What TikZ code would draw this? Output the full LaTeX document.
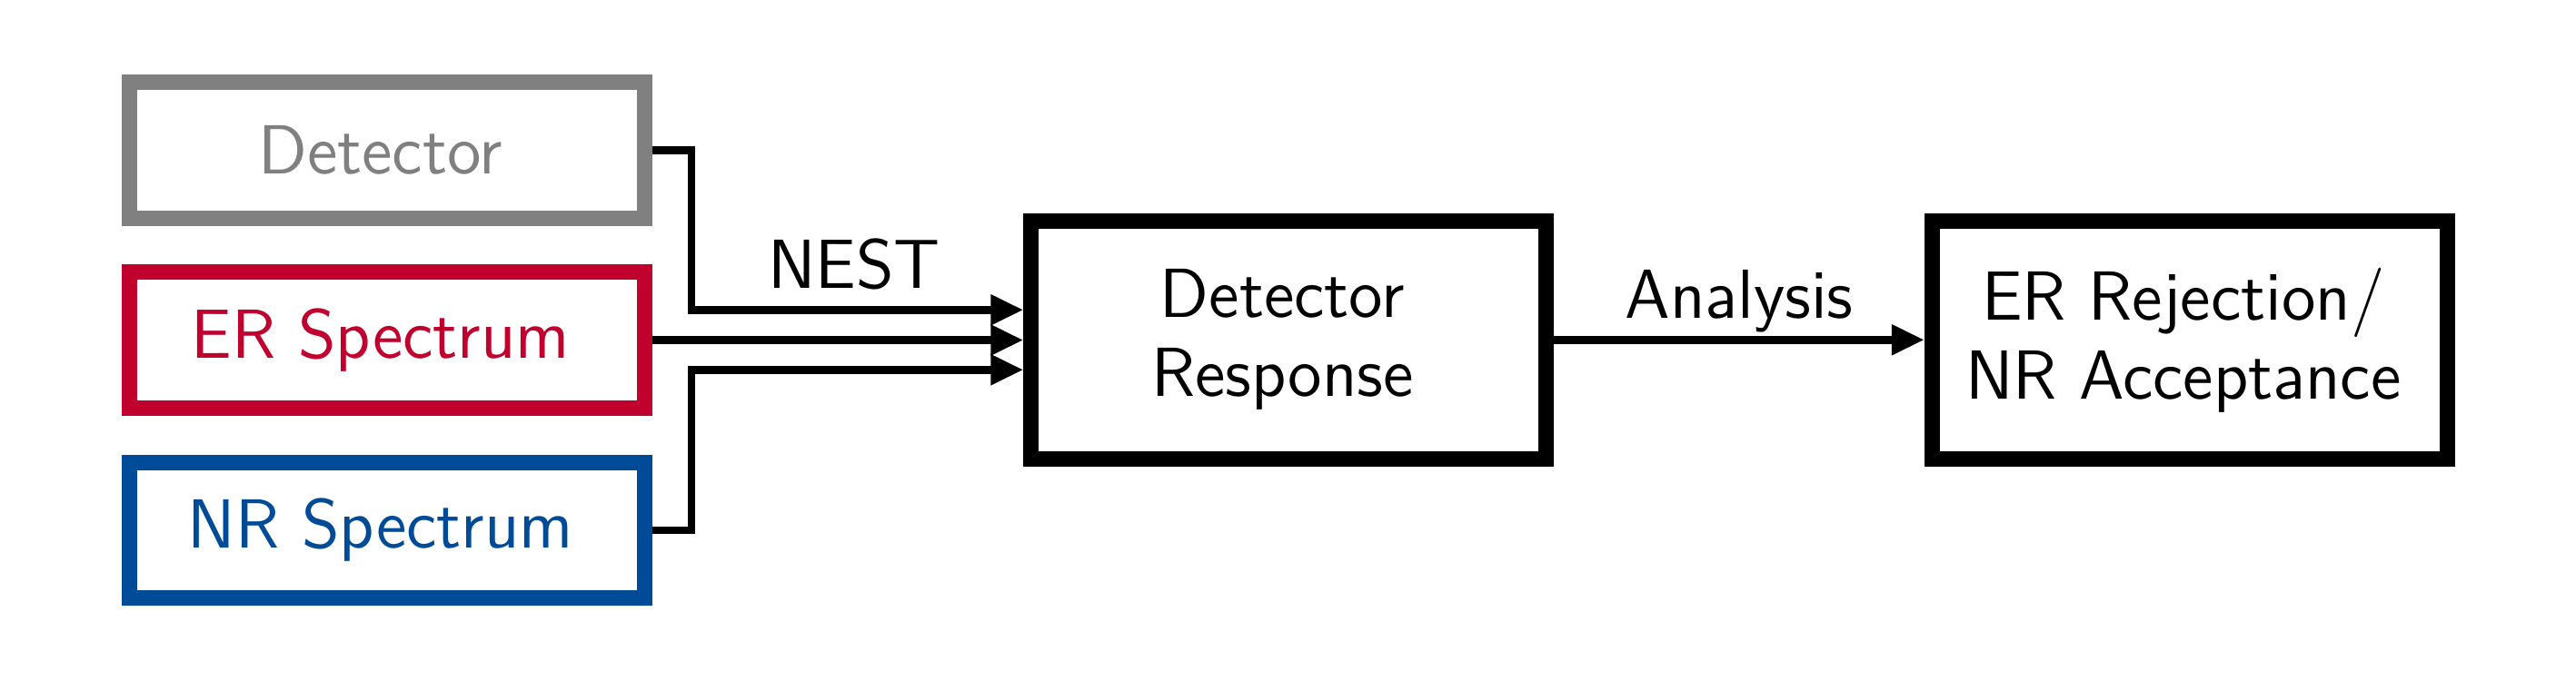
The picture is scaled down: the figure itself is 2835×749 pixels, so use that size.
\documentclass[tikz,border=0pt]{standalone}
\usepackage{fontspec}
\usetikzlibrary{arrows.meta,calc}
\definecolor{detgray}{RGB}{128,128,128}
\definecolor{erred}{RGB}{192,0,45}
\definecolor{nrblue}{RGB}{0,75,152}
\newcommand{\trail}{\hspace*{2.8pt}}
\tikzset{
  txt/.style={font=\sffamily\fontsize{15.3}{17.4}\selectfont},
  smallbox/.style={txt, draw, line width=3.4pt, minimum width=113.4pt, minimum height=29.9pt, inner sep=0pt},
  bigbox/.style={txt, draw=black, line width=3.4pt, minimum width=113.4pt, minimum height=52.3pt, inner sep=0pt, align=center},
  conn/.style={line width=1.7pt, -{Triangle[length=7.2pt, width=6.4pt]}},
  lbl/.style={txt, anchor=base, yshift=4.8pt, inner sep=0pt}
}
\begin{document}
\begin{tikzpicture}[x=0.2pt, y=-0.2pt]
\useasboundingbox (0,0) rectangle (2835,749);
\node[smallbox, draw=detgray, text=detgray] (det) at (425.8,165.3) {Detector\trail};
\node[smallbox, draw=erred, text=erred] (er) at (425.8,374.5) {ER Spectrum\trail};
\node[smallbox, draw=nrblue, text=nrblue] (nr) at (425.8,584) {NR Spectrum\trail};
\node[bigbox] (dr) at (1418.25,374.25) {Detector\trail\\Response\trail};
\node[bigbox] (res) at (2409.75,374.25) {ER Rejection/\trail\\NR Acceptance\trail};
\coordinate (inA) at ($(dr.west)+(0,-33)$);
\coordinate (inC) at ($(dr.west)+(0,33)$);
\coordinate (jx) at (761,0);
\draw[conn] (det.east) -| (jx |- inA) -- node[lbl, pos=0.49] {NEST} (inA);
\draw[conn] (er.east) -- (er.east -| dr.west);
\draw[conn] (nr.east) -| (jx |- inC) -- (inC);
\draw[conn] (dr.east) -- node[lbl] {Analysis} (res.west);
\end{tikzpicture}
\end{document}
